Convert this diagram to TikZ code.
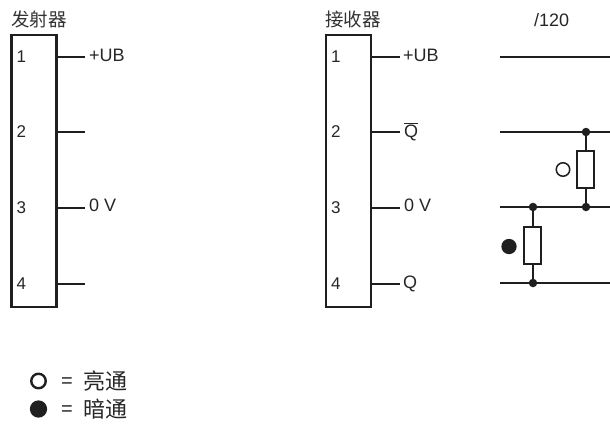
\documentclass[tikz,border=0pt]{standalone}
\usepackage{fontspec}
\usetikzlibrary{calc}
\setmainfont{Liberation Sans}
\newfontfamily\cjk{Noto Sans CJK SC}
\tikzset{
  x=1pt,y=-1pt,
  wire/.style={line width=2.2pt,draw=black!88},
  conn/.style={rectangle,draw=black!88,line width=2.2pt,minimum width=45pt,minimum height=272pt,inner sep=0pt},
  res/.style={rectangle,draw=black!88,line width=1.9pt,fill=white,minimum width=17pt,minimum height=37pt,inner sep=0pt},
  dotj/.style={circle,fill=black!88,minimum size=8.5pt,inner sep=0pt},
  lbl/.style={inner sep=0pt,anchor=west,text=black!85,font=\fontsize{18}{20}\selectfont},
  num/.style={inner sep=0pt,anchor=west,text=black!85,font=\fontsize{17}{20}\selectfont},
  cjkl/.style={inner sep=0pt,anchor=west,text=black!80,font=\cjk\fontsize{18.5}{20}\selectfont},
  cjkk/.style={inner sep=0pt,anchor=west,text=black!85,font=\cjk\fontsize{22}{24}\selectfont},
  eqs/.style={inner sep=0pt,anchor=west,text=black!85,font=\fontsize{20}{22}\selectfont},
  hollow/.style={circle,draw=black!88,line width=1.5pt,minimum size=13.5pt,inner sep=0pt},
  solid/.style={circle,fill=black!88,minimum size=15.3pt,inner sep=0pt},
  lhollow/.style={circle,draw=black!88,line width=2.4pt,minimum size=14.5pt,inner sep=0pt},
  lsolid/.style={circle,fill=black!88,minimum size=17.3pt,inner sep=0pt}
}
\begin{document}
\begin{tikzpicture}
\useasboundingbox (0,0) rectangle (610,423);
% titles
\node[cjkl] (t1) at (11,19) {发射器};
\node[cjkl] (t2) at (325,19) {接收器};
\node[lbl] (t3) at (534,20) {/120};
% connector blocks
\node[conn] (A) at (34,171) {};
\node[conn] (B) at (348.5,171) {};
\foreach \b/\ox in {A/16.5,B/331}{
  \foreach \n/\y in {1/57,2/132,3/208,4/284}{
    \node[num] (\b n\n) at (\ox,\y) {\n};
    \coordinate (yy) at (0,\y);
    \coordinate (\b p\n) at (\b.east |- yy);
    \coordinate (\b e\n) at ($(\b p\n)+(27.5,0)$);
    \draw[wire] (\b p\n) -- (\b e\n);
  }
}
\node[lbl] (la1) at (89,55.5) {+UB};
\node[lbl] (la3) at (89,205.5) {0 V};
\node[lbl] (lb1) at (403,55.5) {+UB};
\node[lbl] (lb2) at (404,132) {$\overline{\mbox{Q}}$};
\node[lbl] (lb3) at (404,205.5) {0 V};
\node[lbl] (lb4) at (403,283.5) {Q};
% right wiring
\foreach \n/\y in {1/57,2/132,3/207,4/283}{
  \coordinate (L\n) at (500,\y);
  \coordinate (R\n) at (610,\y);
  \draw[wire] (L\n) -- (R\n);
}
\node[dotj] (j1) at (586,132) {};
\node[dotj] (j2) at (586,207) {};
\node[dotj] (j3) at (533,207) {};
\node[dotj] (j4) at (533,283) {};
\draw[wire] (j1) -- (j2);
\draw[wire] (j3) -- (j4);
\node[res] (r1) at (585.5,169.5) {};
\node[res] (r2) at (532.5,245.5) {};
\node[hollow] (s1) at (563,169.5) {};
\node[solid] (s2) at (509,246.5) {};
% legend
\node[lhollow] (k1) at (38.5,381) {};
\node[lsolid] (k2) at (38.5,409) {};
\node[eqs] (e1) at (61,383) {=};
\node[eqs] (e2) at (61,411) {=};
\node[cjkk] (k1t) at (83,381) {亮通};
\node[cjkk] (k2t) at (83,409) {暗通};
\end{tikzpicture}
\end{document}
